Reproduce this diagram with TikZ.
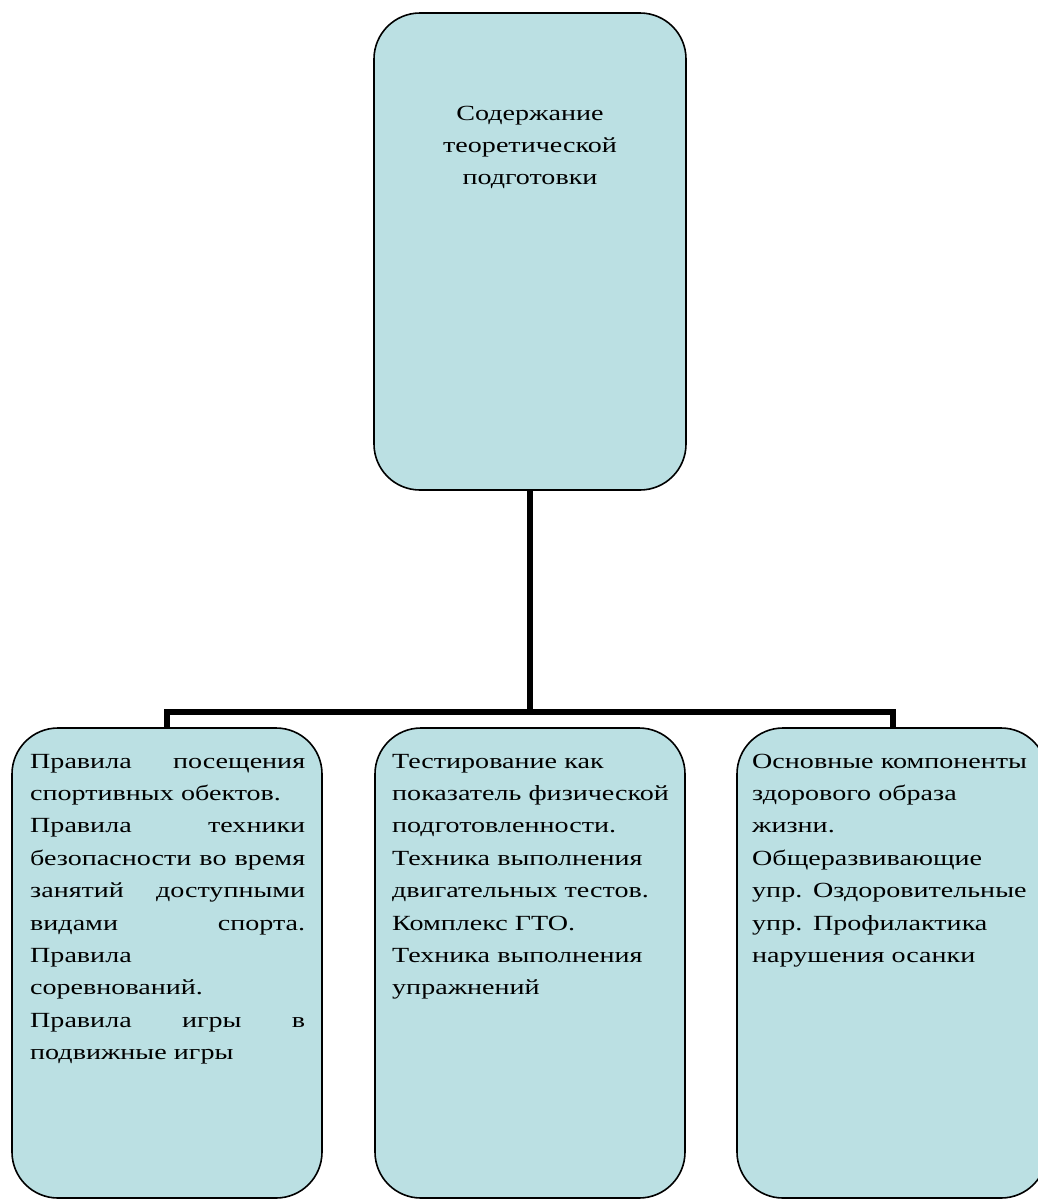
\documentclass[tikz,border=0pt]{standalone}
\usepackage{fontspec}
\setmainfont{Liberation Serif}[FakeStretch=1.3]
\definecolor{boxfill}{RGB}{187,224,227}
\tikzset{
  x=1pt, y=-1pt,
  box/.style={draw=black, line width=1.6pt, fill=boxfill, rounded corners=46pt, inner sep=0pt},
  txt/.style={anchor=base west, inner sep=0pt, align=left, font=\fontsize{21.6}{32.4}\selectfont},
  link/.style={line width=6pt, draw=black}
}
\begin{document}
\begin{tikzpicture}
\useasboundingbox (0,0) rectangle (1038,1200);
\begin{scope}
\clip (0,0) rectangle (1038,1200);
% boxes
\path[box] (374,13) rectangle (686,490);
\path[box] (12,728) rectangle (322,1198);
\path[box] (375,728) rectangle (685,1198);
\path[box] (737,728) rectangle (1047,1198);
\coordinate (topb) at (530,490);
\coordinate (j) at (530,712);
\coordinate (lt) at (167,728);
\coordinate (rt) at (893,728);
\coordinate (jl) at (167,712);
\coordinate (jr) at (893,712);
% connectors
\draw[link] (topb) -- (j);
\draw[link, line cap=butt] (lt) -- (jl) -- (jr) -- (rt);
% texts
\node[txt, anchor=base, align=center, text width=300pt] (ttop) at (530,120) {Содержание\\теоретической\\подготовки};
\node[txt, text width=275pt] (tleft) at (30,768) {Правила\hfill посещения\\
спортивных обектов.\\
Правила\hfill техники\\
безопасности\hfill во\hfill время\\
занятий\hfill доступными\\
видами\hfill спорта.\\
Правила\\
соревнований.\\
Правила\hfill игры\hfill в\\
подвижные игры};
\node[txt, text width=290pt] (tmid) at (392,768) {Тестирование как\\
показатель физической\\
подготовленности.\\
Техника выполнения\\
двигательных тестов.\\
Комплекс ГТО.\\
Техника выполнения\\
упражнений};
\node[txt, text width=290pt] (tright) at (752,768) {Основные компоненты\\
здорового образа\\
жизни.\\
Общеразвивающие\\
упр. Оздоровительные\\
упр. Профилактика\\
нарушения осанки};
\end{scope}
\end{tikzpicture}
\end{document}
